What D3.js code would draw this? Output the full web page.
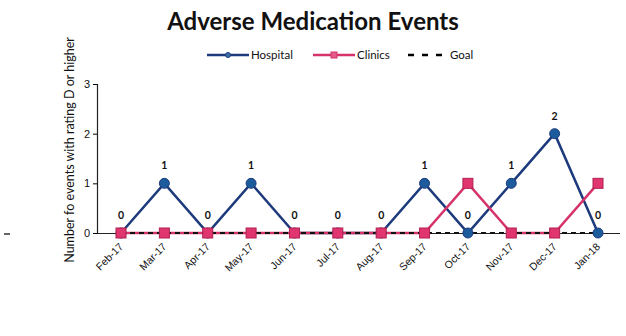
<!DOCTYPE html>
<html>
<head>
<meta charset="utf-8">
<script src="https://cdn.jsdelivr.net/npm/d3@7"></script>
<style>
  body { margin: 0; background: #fff; }
  svg { font-family: Lato, "Open Sans", sans-serif; }
</style>
</head>
<body>
<svg id="chart" width="626" height="336"></svg>
<script>
// values
var months = ["Feb-17", "Mar-17", "Apr-17", "May-17", "Jun-17", "Jul-17", "Aug-17", "Sep-17", "Oct-17", "Nov-17", "Dec-17", "Jan-18"];
var hospital = [0, 1, 0, 1, 0, 0, 0, 1, 0, 1, 2, 0];
var clinics = [0, 0, 0, 0, 0, 0, 0, 0, 1, 0, 0, 1];
var goal = [0, 0, 0, 0, 0, 0, 0, 0, 0, 0, 0, 0];
var yTicks = [0, 1, 2, 3];

var blue = "#1d3b7c", red = "#d6336b";
var svg = d3.select("#chart");

var x = d3.scalePoint().domain(months).range([121, 598]);
var y = d3.scaleLinear().domain([0, 3]).range([233, 84]);

svg.append("text").attr("x", 313).attr("y", 30)
    .attr("text-anchor", "middle").attr("font-size", 24).attr("font-weight", "bold")
    .attr("fill", "#111").text("Adverse Medication Events");

// legend
var legend = [
    {name: "Hospital", color: blue, shape: "circle", x0: 207},
    {name: "Clinics", color: red, shape: "square", x0: 313},
    {name: "Goal", color: "#000", shape: "dash", x0: 408}
];
legend.forEach(function (l) {
    var g = svg.append("g").attr("transform", "translate(" + l.x0 + ",55)");
    g.append("line").attr("x1", 0).attr("x2", l.shape == "dash" ? 36 : 42).attr("y1", 0).attr("y2", 0)
        .attr("stroke", l.color).attr("stroke-width", 2.5)
        .attr("stroke-dasharray", l.shape == "dash" ? "6,8" : null);
    if (l.shape == "circle")
        g.append("circle").attr("cx", 21).attr("r", 2.5).attr("fill", "#3a6ea5").attr("stroke", l.color);
    if (l.shape == "square")
        g.append("rect").attr("x", 18).attr("y", -3).attr("width", 6).attr("height", 6).attr("fill", "#e35b8a").attr("stroke", l.color);
    g.append("text").attr("x", l.shape == "dash" ? 42 : 44).attr("y", 4).attr("font-size", 11.5).attr("fill", "#111").text(l.name);
});

// axes
var yAxis = svg.append("g").attr("transform", "translate(97,0)")
    .call(d3.axisLeft(y).tickValues(yTicks).tickSize(4).tickFormat(d3.format("d")));
yAxis.select(".domain").attr("stroke", "#222").attr("stroke-width", 1.2);
yAxis.selectAll("text").attr("font-size", 11).attr("fill", "#111");

var xAxis = svg.append("g").attr("transform", "translate(0,233)")
    .call(d3.axisBottom(x).tickSize(0));
xAxis.select(".domain").attr("d", "M97,0.5H620").attr("stroke", "#222").attr("stroke-width", 1.2);
xAxis.selectAll("text").attr("font-size", 10.5).attr("fill", "#111")
    .attr("text-anchor", "end").attr("dy", "0.3em")
    .attr("transform", "translate(-2,10) rotate(-45)");

svg.append("text").attr("transform", "translate(74,150) rotate(-90)")
    .attr("text-anchor", "middle").attr("font-size", 12.5).attr("fill", "#111")
    .text("Number fo events with rating D or higher");

// stray mark on left edge
svg.append("line").attr("x1", 4).attr("x2", 10).attr("y1", 234).attr("y2", 234)
    .attr("stroke", "#333").attr("stroke-width", 1.5);

var line = d3.line().x(function (d, i) { return x(months[i]); }).y(function (d) { return y(d); });

svg.append("path").datum(hospital).attr("d", line).attr("fill", "none")
    .attr("stroke", blue).attr("stroke-width", 2.5);
svg.append("path").datum(clinics).attr("d", line).attr("fill", "none")
    .attr("stroke", red).attr("stroke-width", 2.5);
svg.append("path").datum(goal).attr("d", line).attr("fill", "none")
    .attr("stroke", "#111").attr("stroke-width", 2).attr("stroke-dasharray", "5,4");

svg.selectAll(".dot").data(hospital).enter().append("circle")
    .attr("cx", function (d, i) { return x(months[i]); })
    .attr("cy", function (d) { return y(d); })
    .attr("r", 5)
    .attr("fill", "#1c5c9c").attr("stroke", blue).attr("stroke-width", 1);

svg.selectAll(".sq").data(clinics).enter().append("rect")
    .attr("x", function (d, i) { return x(months[i]) - 5; })
    .attr("y", function (d) { return y(d) - 5; })
    .attr("width", 10).attr("height", 10)
    .attr("fill", "#e0356e").attr("stroke", "#b02050").attr("stroke-width", 1);

svg.selectAll(".lbl").data(hospital).enter().append("text")
    .attr("x", function (d, i) { return x(months[i]); })
    .attr("y", function (d) { return y(d) - 14; })
    .attr("text-anchor", "middle").attr("font-size", 10.5).attr("font-weight", "bold")
    .attr("fill", "#111").text(function (d) { return d; });
</script>
</body>
</html>
